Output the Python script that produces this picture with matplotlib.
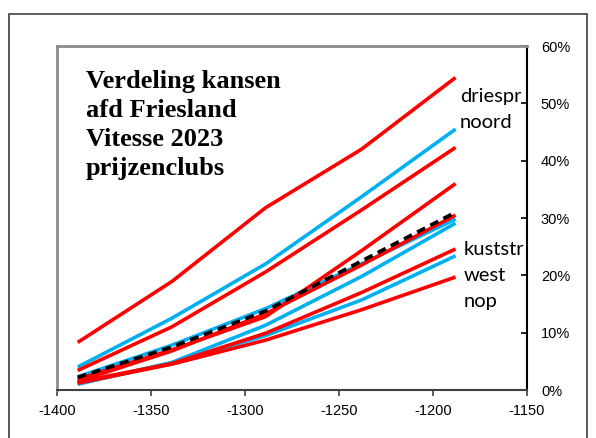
import matplotlib
matplotlib.use("Agg")
import matplotlib.pyplot as plt
from matplotlib.patches import Rectangle
from matplotlib.ticker import FuncFormatter

plt.rcParams["axes.unicode_minus"] = False

# x positions (years) and chance series, in percent
jaren = [-1389, -1339, -1289, -1238, -1188]

rood = [
    [8.3, 18.9, 31.8, 42.0, 54.5],
    [3.4, 11.0, 20.6, 31.4, 42.3],
    [1.9, 7.0, 12.8, 24.3, 36.0],
    [1.5, 6.8, 13.3, 21.8, 30.5],
    [1.4, 4.6, 9.9, 17.0, 24.6],
    [1.2, 4.5, 8.7, 14.0, 19.7],
]
blauw = [
    [4.0, 12.5, 22.0, 33.7, 45.5],
    [2.3, 7.8, 14.2, 22.0, 29.8],
    [1.0, 4.8, 11.3, 19.8, 29.1],
    [1.1, 4.7, 9.5, 15.7, 23.4],
]
gemiddeld = [2.2, 7.5, 13.8, 22.5, 31.0]

titel = ["Verdeling kansen", "afd Friesland", "Vitesse 2023", "prijzenclubs"]
labels_boven = ["driespr", "noord"]
labels_onder = ["kuststr", "west", "nop"]

fig = plt.figure(figsize=(5.96, 4.38), dpi=100)
fig.patches.append(Rectangle((9 / 596, -0.1), 578 / 596, 1.1 - 14 / 438,
                             transform=fig.transFigure, fill=False,
                             edgecolor="#404040", linewidth=1.2))
ax = fig.add_axes([57 / 596, 1 - 390 / 438, 470 / 596, 344 / 438])

for serie in blauw:
    ax.plot(jaren, [v / 100 for v in serie], color="#00B0F0", lw=2.6,
            solid_capstyle="butt")
for serie in rood:
    ax.plot(jaren, [v / 100 for v in serie], color="#FF0000", lw=2.6,
            solid_capstyle="butt")
ax.plot(jaren, [v / 100 for v in gemiddeld], color="black", lw=2.6,
        dashes=(2.5, 1.6))

ax.set_xlim(-1400, -1150)
ax.set_ylim(0, 0.6)
ax.set_xticks(range(-1400, -1149, 50))
ax.set_yticks([i / 10 for i in range(7)])
ax.yaxis.tick_right()
ax.yaxis.set_major_formatter(FuncFormatter(lambda y, p: "%d%%" % round(y * 100)))

ax.tick_params(axis="x", direction="out", length=4, width=1.2,
               color="#404040", pad=6, labelsize=10.5)
ax.tick_params(axis="y", direction="in", length=4, width=1.2,
               color="black", pad=10, labelsize=10.5)
for lab in ax.get_xticklabels() + ax.get_yticklabels():
    lab.set_fontfamily("Liberation Sans")

ax.spines["left"].set_color("#8c8c8c")
ax.spines["left"].set_linewidth(2)
ax.spines["top"].set_color("#8c8c8c")
ax.spines["top"].set_linewidth(2)
ax.spines["bottom"].set_color("#404040")
ax.spines["bottom"].set_linewidth(1.5)
ax.spines["right"].set_color("black")
ax.spines["right"].set_linewidth(1.5)

# title lines, one per baseline
for i, t in enumerate(titel):
    fig.text(86 / 596, 1 - (88 + 29 * i) / 438, t, ha="left", va="baseline",
             family="Liberation Serif", weight="bold", fontsize=19)

# labels at the line ends
for i, t in enumerate(labels_boven):
    fig.text(460 / 596, 1 - (102 + 26 * i) / 438, t, ha="left",
             va="baseline", family="Lato", fontsize=14.5)
for i, t in enumerate(labels_onder):
    fig.text(464 / 596, 1 - (255 + 26 * i) / 438, t, ha="left",
             va="baseline", family="Lato", fontsize=14.5)

fig.savefig("out.png", dpi=100)
